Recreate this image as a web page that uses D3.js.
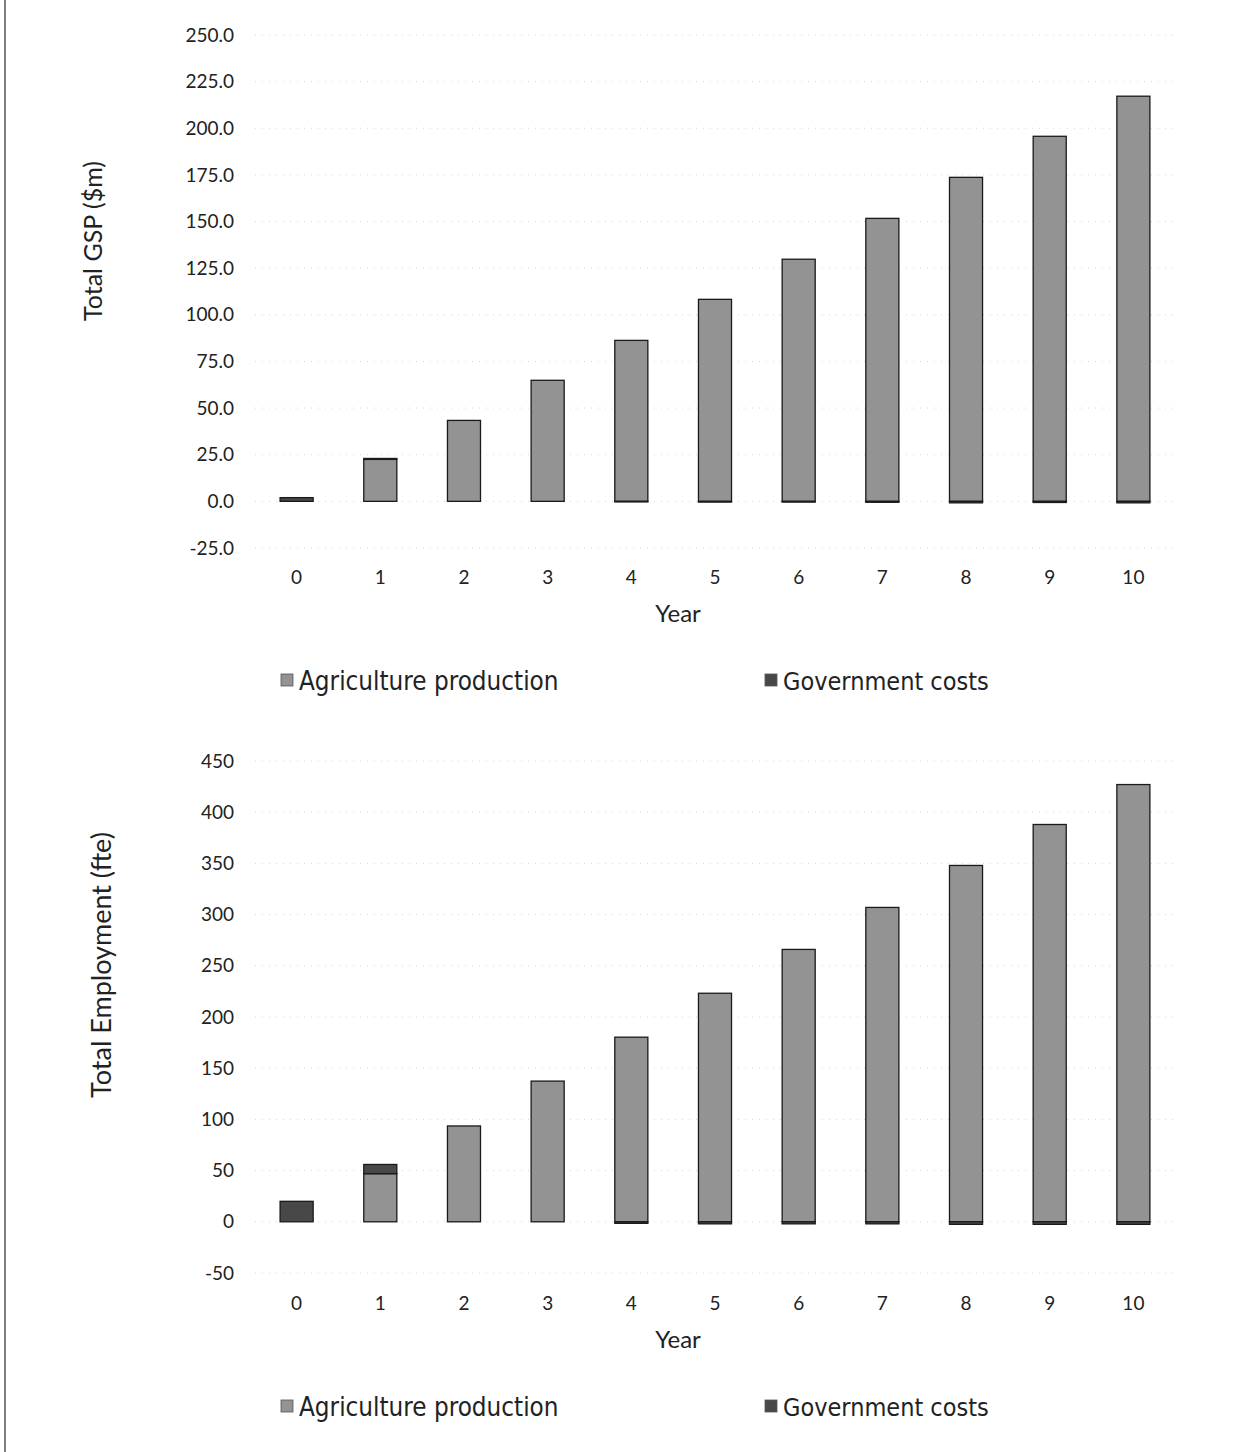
<!DOCTYPE html>
<html>
<head>
<meta charset="utf-8">
<script src="https://cdn.jsdelivr.net/npm/d3@7"></script>
<style>
  html, body { margin: 0; padding: 0; background: #fff; }
  svg { display: block; }
  text { fill: #222; }
</style>
</head>
<body>
<svg id="chart" width="1236" height="1452"></svg>
<script>
// Years on the horizontal axis
const years = [0, 1, 2, 3, 4, 5, 6, 7, 8, 9, 10];
const seriesNames = ["Agriculture production", "Government costs"];

// Total GSP ($m)
const gspAgriculture = [0, 22.5, 43.4, 64.9, 86.3, 108.3, 129.8, 151.7, 173.7, 195.7, 217.2];
const gspGovernment  = [2.0, 0.5, 0, 0, -0.3, -0.4, -0.4, -0.5, -0.8, -0.6, -0.8];
const gspTicks = [-25, 0, 25, 50, 75, 100, 125, 150, 175, 200, 225, 250];

// Total Employment (fte)
const empAgriculture = [0, 47, 93.6, 137.4, 180.3, 223.2, 266, 307, 348, 388, 427];
const empGovernment  = [20, 9, 0, 0, -1.5, -2, -2, -2, -2.5, -2.5, -2.5];
const empTicks = [-50, 0, 50, 100, 150, 200, 250, 300, 350, 400, 450];

const colors = { "Agriculture production": "#939393", "Government costs": "#484848" };
const svg = d3.select("#chart");
const tickFont = "Lato, 'Open Sans', sans-serif";
const legendFont = "'DejaVu Sans Condensed', 'DejaVu Sans', sans-serif";

// Page border on the left
svg.append("line").attr("x1", 5).attr("x2", 5).attr("y1", 0).attr("y2", 1452)
  .attr("stroke", "#555").attr("stroke-width", 1.5);

// plain hyphen for negatives
const withHyphen = f => d => f(d).replace("\u2212", "-");

function drawPanel(cfg) {
  const g = svg.append("g");
  const x = d3.scaleBand().domain(years).range([255, 1175]).paddingInner(0.605).paddingOuter(0.3);
  const y = d3.scaleLinear().domain(cfg.domain).range(cfg.range);

  // faint dotted gridlines
  g.append("g").selectAll("line").data(cfg.ticks).join("line")
    .attr("x1", 255).attr("x2", 1175)
    .attr("y1", d => y(d)).attr("y2", d => y(d))
    .attr("stroke", "#d6d6d6").attr("stroke-width", 1)
    .attr("stroke-dasharray", "1,6");

  // y axis labels
  const yAxis = d3.axisLeft(y).tickValues(cfg.ticks).tickFormat(withHyphen(cfg.fmt)).tickSize(0).tickPadding(0);
  const ya = g.append("g").attr("transform", "translate(234,0)").call(yAxis);
  ya.select(".domain").remove();
  ya.selectAll("text").attr("font-family", tickFont).attr("font-size", 19).attr("fill", "#222");

  // x axis labels
  const xAxis = d3.axisBottom(x).tickSize(0).tickPadding(0);
  const xa = g.append("g").attr("transform", `translate(0,${cfg.xLabelY})`).call(xAxis);
  xa.select(".domain").remove();
  xa.selectAll("text").attr("font-family", tickFont).attr("font-size", 19).attr("fill", "#222");

  // stacked bars
  const rows = years.map((yr, i) => ({
    year: yr,
    "Agriculture production": cfg.ag[i],
    "Government costs": cfg.gov[i]
  }));
  const stack = d3.stack().keys(seriesNames).offset(d3.stackOffsetDiverging)(rows);
  g.append("g").selectAll("g").data(stack).join("g")
    .attr("fill", d => colors[d.key])
    .selectAll("rect").data(d => d).join("rect")
    .attr("x", d => x(d.data.year))
    .attr("width", x.bandwidth())
    .attr("y", d => y(Math.max(d[0], d[1])))
    .attr("height", d => Math.abs(y(d[0]) - y(d[1])))
    .attr("stroke", "#1a1a1a").attr("stroke-width", 1.3);

  // axis titles
  g.append("text")
    .attr("transform", `translate(${cfg.titleX},${cfg.titleY}) rotate(-90)`)
    .attr("text-anchor", "middle").attr("dominant-baseline", "central")
    .attr("font-family", tickFont).attr("font-size", cfg.titleSize)
    .text(cfg.yTitle);
  g.append("text")
    .attr("x", 678).attr("y", cfg.yearY)
    .attr("text-anchor", "middle").attr("dominant-baseline", "central")
    .attr("font-family", tickFont).attr("font-size", 24)
    .text("Year");

  // legend
  const lg = g.append("g").attr("transform", `translate(0,${cfg.legendY})`);
  const items = [{ name: seriesNames[0], x: 281, size: 25.8 }, { name: seriesNames[1], x: 765, size: 25 }];
  items.forEach(it => {
    lg.append("rect").attr("x", it.x).attr("y", -7).attr("width", 12).attr("height", 12)
      .attr("fill", colors[it.name]).attr("stroke", "#555").attr("stroke-width", 0.8);
    lg.append("text").attr("x", it.x + 18).attr("y", 0)
      .attr("dominant-baseline", "central")
      .attr("font-family", legendFont)
      .attr("font-size", it.size)
      .text(it.name);
  });
}

drawPanel({
  domain: [-25, 250], range: [548, 35], ticks: gspTicks, fmt: d3.format(".1f"),
  ag: gspAgriculture, gov: gspGovernment,
  xLabelY: 570, yTitle: "Total GSP ($m)", titleX: 92, titleY: 241, titleSize: 25,
  yearY: 612, legendY: 681
});

drawPanel({
  domain: [-50, 450], range: [1273, 761], ticks: empTicks, fmt: d3.format("d"),
  ag: empAgriculture, gov: empGovernment,
  xLabelY: 1296, yTitle: "Total Employment (fte)", titleX: 100, titleY: 965, titleSize: 27,
  yearY: 1338, legendY: 1407
});
</script>
</body>
</html>
